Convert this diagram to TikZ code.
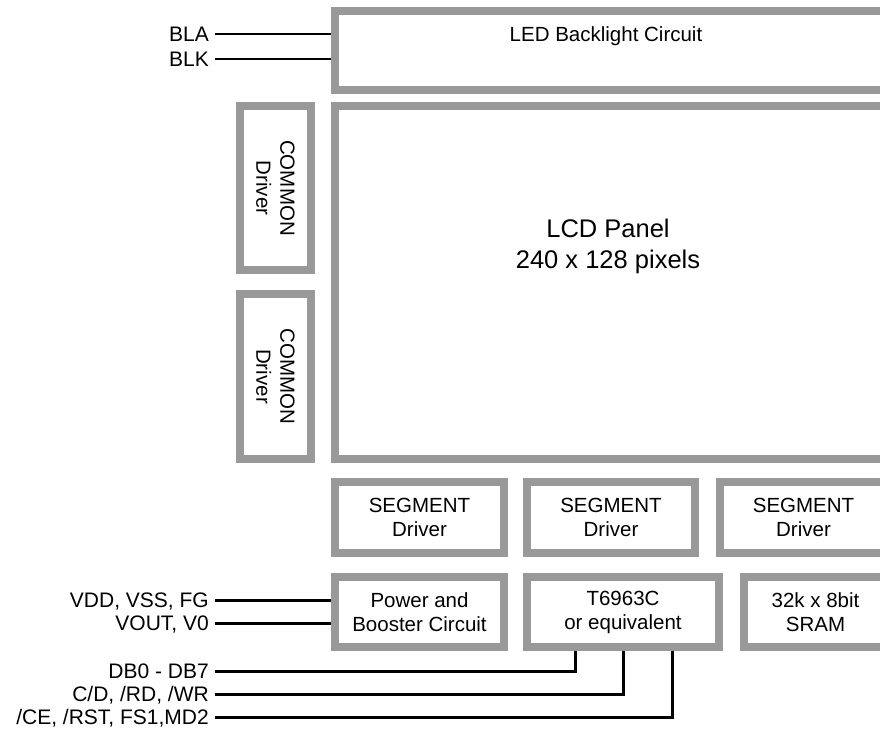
\documentclass[tikz,border=0pt]{standalone}
\usepackage{fontspec}
\setmainfont{Liberation Sans}
\definecolor{boxgray}{RGB}{153,153,153}
\begin{document}
\begin{tikzpicture}[x=1pt,y=-1pt,
  blk/.style={draw=boxgray, line width=8pt, fill=white, inner sep=0pt, align=center, font=\fontsize{20.5}{24}\selectfont},
  boxtext/.style={align=center, inner sep=0pt, font=\fontsize{20.5}{24}\selectfont},
  sig/.style={font=\fontsize{21}{24}\selectfont, anchor=east, inner xsep=6pt, inner ysep=0pt, text height=15pt, text depth=0pt},
  wire/.style={line width=3pt},
  thinwire/.style={line width=2pt}]
\useasboundingbox (0,0) rectangle (880,731);
\clip (0,0) rectangle (880,731);
% blocks
\node[blk, minimum width=552pt, minimum height=79pt] (led) at (611,50.5) {};
\node[boxtext] (ledtxt) at (606,36) {LED Backlight Circuit};
\node[blk, minimum width=552pt, minimum height=353pt] (lcd) at (611,282.5) {};
\node[align=center, inner sep=0pt, font=\fontsize{25.5}{31}\selectfont] (lcdtxt) at (608,246) {LCD Panel\\240 x 128 pixels};
\node[blk, rotate=-90, minimum width=164pt, minimum height=71pt] (com1) at (275.5,188) {COMMON\\Driver};
\node[blk, rotate=-90, minimum width=165pt, minimum height=71pt] (com2) at (275.5,376.5) {COMMON\\Driver};
\node[blk, minimum width=169pt, minimum height=71pt] (seg1) at (419.5,517.5) {SEGMENT\\Driver};
\node[blk, minimum width=168pt, minimum height=71pt] (seg2) at (611,517.5) {SEGMENT\\Driver};
\node[blk, minimum width=167pt, minimum height=71pt] (seg3) at (803.5,517.5) {SEGMENT\\Driver};
\node[blk, minimum width=169pt, minimum height=70pt] (power) at (419.5,612) {Power and\\Booster Circuit};
\node[blk, minimum width=192pt, minimum height=70pt] (chip) at (623,612) {T6963C\\or equivalent};
\node[blk, minimum width=143pt, minimum height=70pt] (sram) at (815.5,612) {32k x 8bit\\SRAM};
% signal labels
\node[sig] (bla) at (215,34) {BLA};
\node[sig] (blk) at (215,59) {BLK};
\node[sig] (vdd) at (215,600) {VDD, VSS, FG};
\node[sig] (vout) at (215,623) {VOUT, V0};
\node[sig] (db) at (215,671) {DB0 - DB7};
\node[sig] (cd) at (215,694) {C/D, /RD, /WR};
\node[sig] (ce) at (215,717) {/CE, /RST, FS1,MD2};
% connectors
\draw[thinwire] (bla.east) -- (bla.east -| led.west);
\draw[thinwire] (blk.east) -- (blk.east -| led.west);
\draw[wire] (vdd.east) -- (vdd.east -| power.west);
\draw[wire] (vout.east) -- (vout.east -| power.west);
\draw[wire] (db.east) -| ([xshift=-48pt]chip.south);
\draw[wire] (cd.east) -| (chip.south);
\draw[wire] (ce.east) -| ([xshift=49pt]chip.south);
\end{tikzpicture}
\end{document}
